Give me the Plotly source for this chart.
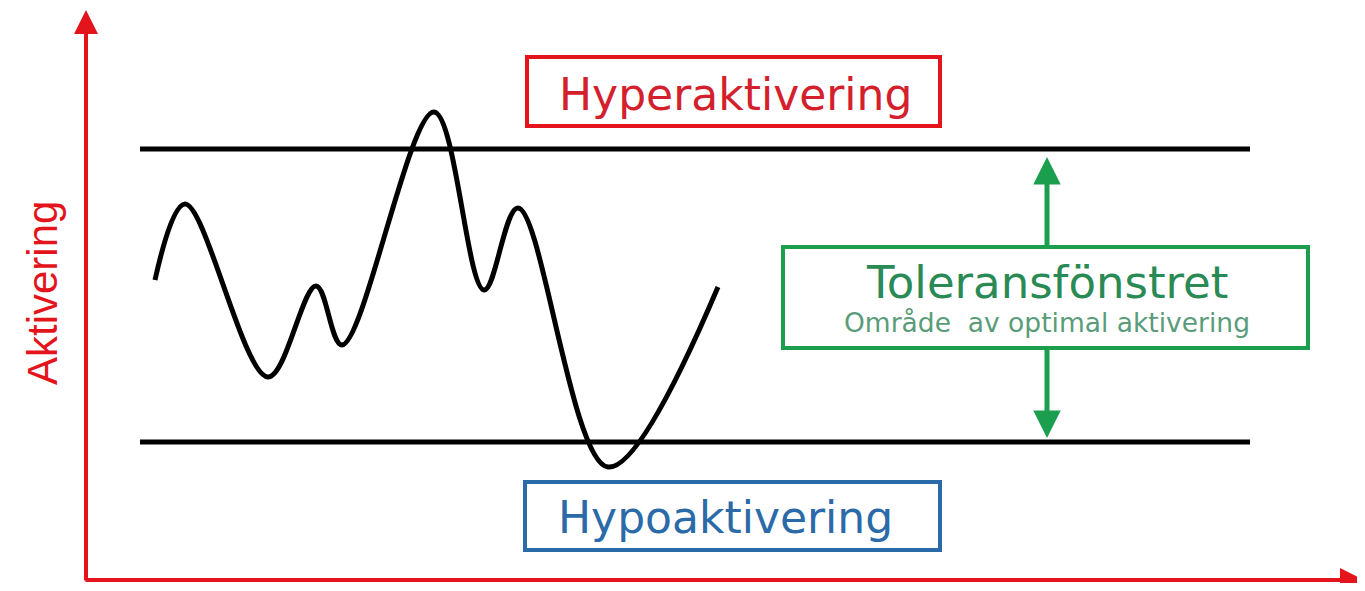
import plotly.graph_objects as go

# ---- data (pixel-like units; y grows downward) ----
curve_x = [155, 185, 268, 316, 342, 434, 484, 518, 608, 718]
curve_y = [280, 204, 377, 286, 345, 112, 290, 208, 467, 287]

band_x = [140, 1250]
upper_level = 149
lower_level = 442

label_hyper = "Hyperaktivering"
label_hypo = "Hypoaktivering"
label_window = "Toleransfönstret"
label_window_sub = "Område  av optimal aktivering"
label_axis = "Aktivering"

RED = "#e3141c"
BLUE = "#2a6aa8"
GREEN = "#1c9e4f"
FONT = "DejaVu Sans"

fig = go.Figure()

# tolerance band edges
for lvl in (upper_level, lower_level):
    fig.add_trace(go.Scatter(x=band_x, y=[lvl, lvl], mode="lines",
                             line=dict(color="black", width=5), hoverinfo="skip"))

# activation curve
fig.add_trace(go.Scatter(x=curve_x, y=curve_y, mode="lines",
                         line=dict(color="black", width=5, shape="spline", smoothing=1.0),
                         hoverinfo="skip"))

shapes = [
    dict(type="rect", x0=527, x1=940, y0=57, y1=126, line=dict(color=RED, width=4), fillcolor="white"),
    dict(type="rect", x0=525, x1=940, y0=482, y1=550, line=dict(color=BLUE, width=4), fillcolor="white"),
    dict(type="rect", x0=783, x1=1308, y0=247, y1=348, line=dict(color=GREEN, width=4), fillcolor="white"),
]

ann = []
# axes arrows
ann.append(dict(x=86, y=10, ax=86, ay=582, xref="x", yref="y", axref="x", ayref="y",
                showarrow=True, arrowhead=2, arrowsize=1.2, arrowwidth=4, arrowcolor=RED, text=""))
ann.append(dict(x=1364, y=580, ax=84, ay=580, xref="x", yref="y", axref="x", ayref="y",
                showarrow=True, arrowhead=2, arrowsize=1.2, arrowwidth=4, arrowcolor=RED, text=""))
# green double arrow
ann.append(dict(x=1047, y=157, ax=1047, ay=247, xref="x", yref="y", axref="x", ayref="y",
                showarrow=True, arrowhead=2, arrowsize=1.1, arrowwidth=5, arrowcolor=GREEN, text=""))
ann.append(dict(x=1047, y=438, ax=1047, ay=348, xref="x", yref="y", axref="x", ayref="y",
                showarrow=True, arrowhead=2, arrowsize=1.1, arrowwidth=5, arrowcolor=GREEN, text=""))

# texts
ann.append(dict(x=735, y=94, xref="x", yref="y", text=label_hyper, showarrow=False,
                font=dict(family=FONT, size=44, color="#d3202c")))
ann.append(dict(x=725, y=517, xref="x", yref="y", text=label_hypo, showarrow=False,
                font=dict(family=FONT, size=44, color=BLUE)))
ann.append(dict(x=1047, y=282, xref="x", yref="y", text=label_window, showarrow=False,
                font=dict(family=FONT, size=45, color="#2a8a55")))
ann.append(dict(x=1047, y=322, xref="x", yref="y", text=label_window_sub, showarrow=False,
                font=dict(family=FONT, size=26.5, color="#5a9c7a")))
ann.append(dict(x=42, y=293, xref="x", yref="y", text=label_axis, showarrow=False, textangle=-90,
                font=dict(family="Liberation Sans Narrow, Arial Narrow, sans-serif", size=42, color=RED)))

# the page adds an 8px body margin; size and ranges compensate so
# coordinates line up with the 1365x591 window
fig.update_layout(
    width=1357, height=575, margin=dict(l=0, r=0, t=0, b=0),
    paper_bgcolor="white", plot_bgcolor="white", showlegend=False,
    xaxis=dict(range=[8, 1365], visible=False, fixedrange=True),
    yaxis=dict(range=[583, 8], visible=False, fixedrange=True),
    shapes=shapes, annotations=ann,
)

fig.write_html("out.html")
